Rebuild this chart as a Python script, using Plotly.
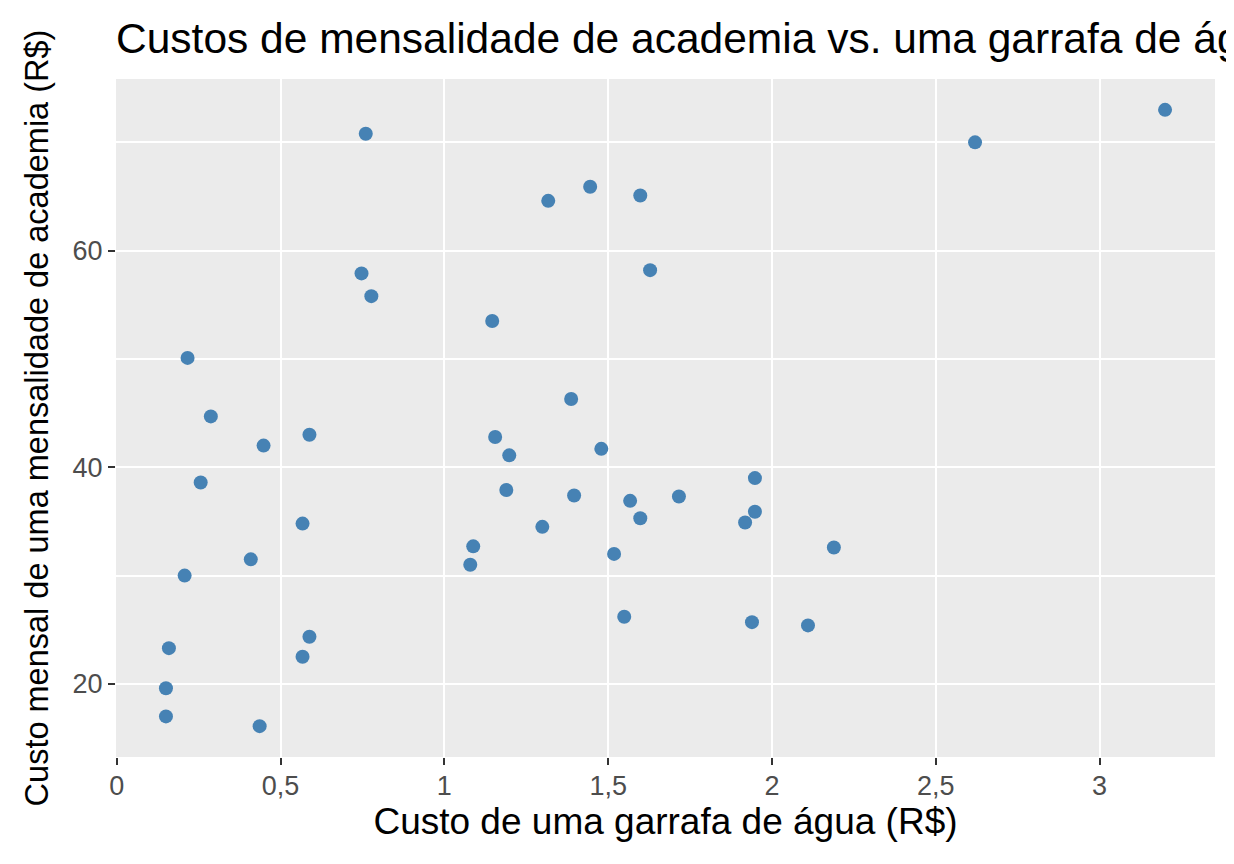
import plotly.graph_objects as go

agua = [0.76, 2.62, 3.20, 1.445, 1.317, 1.598, 1.628, 0.747, 0.777, 1.146,
        0.216, 1.387, 0.287, 0.448, 0.588, 1.155, 1.198, 1.479, 0.256, 1.948,
        1.189, 1.396, 1.716, 1.567, 1.948, 1.598, 1.918, 0.567, 1.299, 2.189,
        1.088, 1.518, 0.409, 1.079, 0.207, 1.549, 1.939, 2.110, 0.588, 0.159,
        0.567, 0.150, 0.150, 0.436]
academia = [70.8, 70.0, 73.0, 65.9, 64.6, 65.1, 58.2, 57.9, 55.8, 53.5,
            50.1, 46.3, 44.7, 42.0, 43.0, 42.8, 41.1, 41.7, 38.6, 39.0,
            37.9, 37.4, 37.3, 36.9, 35.9, 35.3, 34.9, 34.8, 34.5, 32.6,
            32.7, 32.0, 31.5, 31.0, 30.0, 26.2, 25.7, 25.4, 24.35, 23.3,
            22.5, 19.6, 17.0, 16.1]

x_ticks = [0, 0.5, 1, 1.5, 2, 2.5, 3]
x_labels = ["0", "0,5", "1", "1,5", "2", "2,5", "3"]
y_ticks = [20, 40, 60]
y_labels = ["20", "40", "60"]

titulo = "Custos de mensalidade de academia vs. uma garrafa de água"
x_titulo = "Custo de uma garrafa de água (R$)"
y_titulo = "Custo mensal de uma mensalidade de academia (R$)"

FONT = "Liberation Sans, Arial, sans-serif"

W, H = 1226, 856  # page body has an 8px margin

fig = go.Figure(go.Scatter(
    x=agua, y=academia, mode="markers",
    marker=dict(color="#4682B4", size=14, line=dict(width=0)),
    hoverinfo="x+y", showlegend=False,
))

fig.update_layout(
    width=W, height=H,
    margin=dict(l=108, r=19, t=71, b=107),
    paper_bgcolor="white", plot_bgcolor="#EBEBEB",
    font=dict(family=FONT, color="black"),
    title=dict(text=titulo, x=0, xanchor="left", xref="paper",
               y=1-30/H, yanchor="middle", yref="container",
               font=dict(size=42.5, color="black", family=FONT)),
)
fig.update_xaxes(
    range=[-0.0025, 3.3525], tickvals=x_ticks, ticktext=x_labels,
    showgrid=True, gridcolor="white", gridwidth=2.2, zeroline=False,
    ticks="outside", ticklen=7, tickwidth=2.2, tickcolor="#333333",
    ticklabelstandoff=-2,
    tickfont=dict(size=27, color="#4D4D4D"),
    title=dict(text=x_titulo, font=dict(size=37, color="black"), standoff=6),
    showline=False,
)
fig.update_yaxes(
    range=[13.25, 75.85], tickvals=y_ticks, ticktext=y_labels,
    showgrid=True, gridcolor="white", gridwidth=2.2, zeroline=False,
    minor=dict(tickvals=[30, 50, 70], showgrid=True, gridcolor="white", gridwidth=2.2, ticks=""),
    ticks="outside", ticklen=7, tickwidth=2.2, tickcolor="#333333",
    tickfont=dict(size=27, color="#4D4D4D"),
    title=dict(text=y_titulo, font=dict(size=32.5, color="black"), standoff=14),
    showline=False,
)

fig.write_html("out.html")
